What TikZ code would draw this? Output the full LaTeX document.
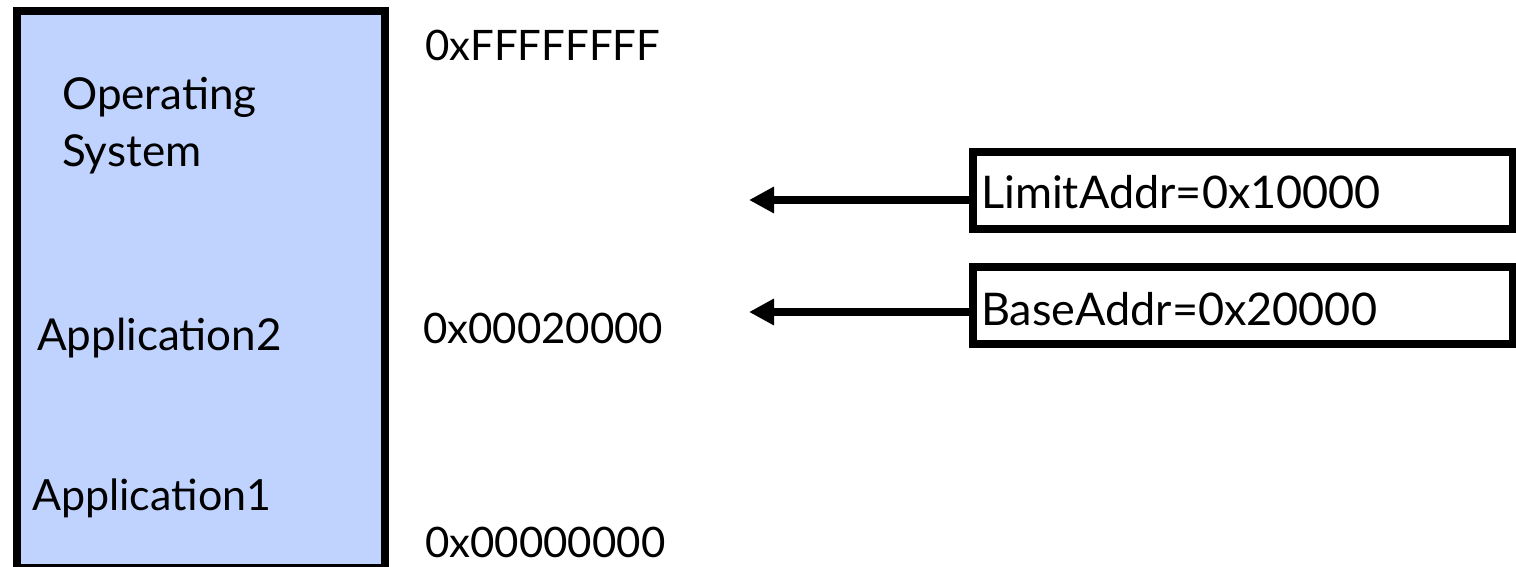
\documentclass[tikz,border=0pt]{standalone}
\usepackage{fontspec}
\setmainfont{Lato}
\usetikzlibrary{arrows.meta}
\definecolor{memfill}{RGB}{192,211,255}
\tikzset{
  lbl/.style={anchor=base west, inner sep=0pt, font=\fontsize{44}{52}\selectfont},
  addr/.style={anchor=base west, inner sep=0pt, font=\fontsize{42}{50}\selectfont},
  reglbl/.style={anchor=base west, inner sep=0pt, font=\fontsize{45}{53}\selectfont},
  regbox/.style={draw, line width=8pt, minimum width=540pt, minimum height=77pt, inner sep=0pt},
  ptr/.style={line width=8pt, -{Triangle[length=25pt, width=25pt]}}
}
\begin{document}
\begin{tikzpicture}[x=1pt, y=-1pt]
  \useasboundingbox (0,0) rectangle (1516,567);
  % physical memory column
  \node[draw, line width=8pt, fill=memfill, minimum width=368pt, minimum height=557pt, inner sep=0pt, anchor=north west] (mem) at (13,7) {};
  \node[lbl] (os1) at (62,110) {Operating};
  \node[lbl] (os2) at (62,167) {System};
  \node[lbl] (app2) at (37,350) {Application2};
  \node[lbl, font=\fontsize{43}{51}\selectfont] (app1) at (32,510) {Application1};
  % address labels
  \node[addr] (atop) at (425,61) {0xFFFFFFFF};
  \node[addr] (amid) at (423,343) {0x00020000};
  \node[addr] (abot) at (425,557) {0x00000000};
  % registers
  \node[regbox] (limit) at (1243,190.5) {};
  \node[reglbl] (limittxt) at (981,208) {LimitAddr=0x10000};
  \node[regbox] (base) at (1243,305.5) {};
  \node[reglbl] (basetxt) at (981,325) {BaseAddr=0x20000};
  \coordinate (limitend) at (749,200);
  \coordinate (baseend) at (749,312);
  \draw[ptr] (limit.west |- limitend) -- (limitend);
  \draw[ptr] (base.west |- baseend) -- (baseend);
\end{tikzpicture}
\end{document}
